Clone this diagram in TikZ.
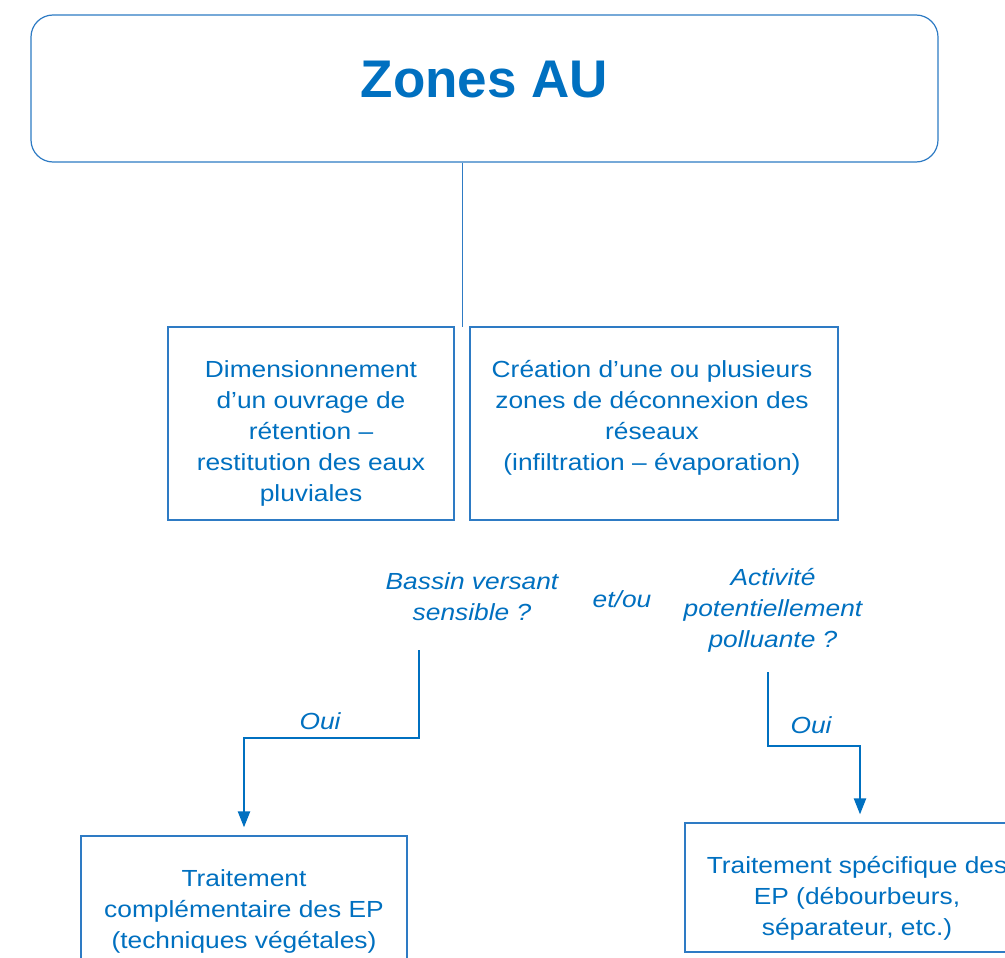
\documentclass[tikz,border=0pt]{standalone}
\usepackage{fontspec}
\setmainfont{Liberation Sans}
\newfontfamily\widesans[FakeStretch=1.13]{Liberation Sans}
\usetikzlibrary{arrows.meta}
\definecolor{bl}{HTML}{0070C0}
\definecolor{bll}{HTML}{2E7BC4}
\tikzset{
  box/.style={draw=bll, line width=1.2pt, inner sep=0pt},
  txt/.style={text=bl, align=center, inner sep=0pt, font=\widesans\fontsize{23.3}{31}\selectfont},
  itx/.style={txt, font=\widesans\fontsize{23.3}{31}\selectfont\itshape},
  conn/.style={draw=bl, line width=2.2pt},
  arr/.style={conn, -{Triangle[length=16pt,width=12pt]}, shorten >=8pt}
}
\begin{document}
\begin{tikzpicture}[x=1pt,y=-1pt]
\clip (0,0) rectangle (1005,958);
\fill[white] (0,0) rectangle (1005,958);
% top box
\node[box, rounded corners=22pt, minimum width=907pt, minimum height=147pt] (top) at (484.5,88.5) {};
\node[anchor=base, text=bl, inner sep=0pt, font=\fontsize{53}{60}\selectfont\bfseries] (title) at (484.5,98) {Zones AU};
% second row
\node[box, minimum width=286pt, minimum height=193pt] (b1) at (311,423.5) {};
\node[box, minimum width=368pt, minimum height=193pt] (b2) at (654,423.5) {};
\node[txt, anchor=north] (t1) at (311,360) {Dimensionnement\\d’un ouvrage de\\rétention –\\restitution des eaux\\pluviales};
\node[txt, anchor=north] (t2) at (652,360) {Création d’une ou plusieurs\\zones de déconnexion des\\réseaux\\(infiltration – évaporation)};
\coordinate (j) at (462,327);
\draw[draw=bll, line width=1pt] (462,162.6) coordinate (tb) -- (j);
% questions
\node[itx, anchor=north] (q1) at (472,572) {Bassin versant\\sensible ?};
\node[itx] (et) at (622,599) {et/ou};
\node[itx, anchor=north] (q2) at (773,568) {Activité\\potentiellement\\polluante ?};
% bottom boxes
\node[box, minimum width=326pt, minimum height=160pt] (b3) at (244,916) {};
\node[box, minimum width=350pt, minimum height=129pt] (b4) at (860,887.5) {};
\node[txt, anchor=north] (t3) at (244,869) {Traitement\\complémentaire des EP\\(techniques végétales)};
\node[txt, anchor=north] (t4) at (857,856) {Traitement spécifique des\\EP (débourbeurs,\\séparateur, etc.)};
% connectors
\coordinate (c1) at (419,650);
\coordinate (k1) at (419,738);
\coordinate (c2) at (768,672);
\coordinate (k2) at (768,746);
\draw[arr] (c1) -- (k1) -| (b3.north);
\draw[arr] (c2) -- (k2) -| (b4.north);
\node[itx] (o1) at (320,721) {Oui};
\node[itx] (o2) at (811,725) {Oui};
\end{tikzpicture}
\end{document}
